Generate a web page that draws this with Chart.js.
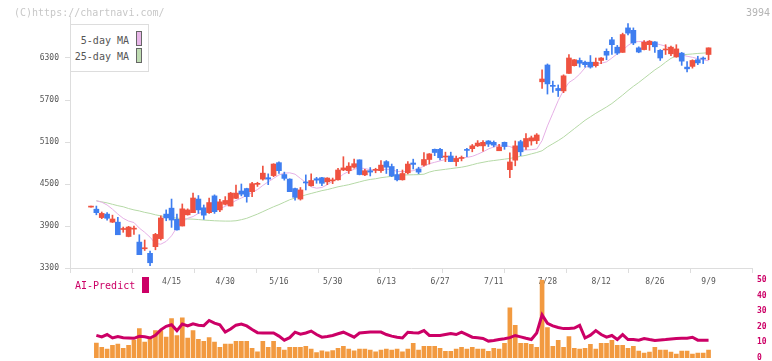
<!DOCTYPE html>
<html>
<head>
<meta charset="utf-8">
<title>3994</title>
<script src="https://cdn.jsdelivr.net/npm/chart.js@4/dist/chart.umd.min.js"></script>
<style>
  html, body { margin: 0; padding: 0; background: #fff; }
  #wrap { position: relative; width: 772px; height: 361px; overflow: hidden; font-family: 'DejaVu Sans Mono', monospace; }
  #wrap canvas { position: absolute; left: 0; }
  #main { top: 0; }
  #sub { top: 270px; }
  .txt { position: absolute; white-space: nowrap; font-size: 10px; line-height: 12px; }
  .sq { position: absolute; width: 4px; height: 13px; border: 1px solid #666; }
</style>
</head>
<body>
<div id="wrap">
  <canvas id="main" width="772" height="300"></canvas>
  <canvas id="sub" width="772" height="104"></canvas>

  <div class="txt" style="left:14px;top:7px;color:#c8c8c8;">(C)https://chartnavi.com/</div>
  <div class="txt" style="left:746px;top:7px;color:#b4b4b4;">3994</div>

  <div style="position:absolute;left:70px;top:24px;width:77px;height:46px;border:1px solid #ddd;background:#fff;"></div>
  <div class="txt" style="right:643px;top:35px;color:#555;">5-day MA</div>
  <div class="sq" style="left:136px;top:31px;background:#e8b6e8;"></div>
  <div class="txt" style="right:643px;top:51px;color:#555;">25-day MA</div>
  <div class="sq" style="left:136px;top:48px;background:#bfdcb2;"></div>

  <div class="txt" style="left:75px;top:280px;color:#cc0066;">AI-Predict</div>
  <div style="position:absolute;left:142px;top:277px;width:7px;height:16px;background:#cc0066;"></div>
</div>

<script>
// daily candles, index 0 = first session shown
var OPEN  = [4170,4140,4020,4070,3955,3955,3850,3750,3855,3670,3575,3510,3605,3720,4070,4155,3995,3900,4060,4090,
             4285,4160,4090,4330,4130,4210,4185,4295,4400,4435,4390,4495,4570,4590,4620,4805,4635,4570,4435,4285,
             4525,4475,4575,4590,4530,4545,4560,4700,4690,4740,4845,4630,4690,4695,4690,4820,4750,4635,4560,4660,
             4800,4715,4770,4850,4995,4995,4885,4900,4820,4865,4990,5005,5045,5045,5115,5095,4975,5095,4705,4840,
             5105,5030,5115,5120,5960,6200,5910,5865,5830,6080,6190,6265,6240,6240,6190,6265,6395,6560,6455,6380,
             6730,6695,6445,6420,6490,6530,6410,6415,6360,6315,6370,6170,6180,6275,6295,6350];
var HIGH  = [4170,4185,4100,4090,4055,4025,3885,3895,3900,3775,3700,3540,3795,4045,4130,4285,4070,4215,4145,4370,
             4335,4200,4300,4345,4280,4320,4380,4485,4500,4440,4525,4525,4755,4645,4790,4815,4670,4575,4440,4450,
             4630,4645,4595,4595,4590,4585,4725,4890,4805,4855,4845,4710,4735,4725,4835,4835,4785,4710,4700,4820,
             4855,4740,4950,4935,5000,5010,4955,4955,4900,4900,5010,5065,5120,5120,5120,5115,5065,5100,4945,5115,
             5125,5220,5185,5220,6130,6215,5970,5915,6060,6350,6280,6300,6255,6335,6300,6305,6430,6595,6480,6655,
             6790,6730,6460,6550,6550,6535,6420,6490,6470,6490,6380,6250,6275,6325,6315,6445];
var LOW   = [4170,4060,4005,3985,3950,3775,3810,3745,3780,3490,3550,3335,3560,3700,3975,3880,3840,3900,4055,4090,
             4080,3995,4080,4080,4105,4200,4185,4290,4330,4240,4320,4465,4555,4490,4605,4650,4555,4390,4270,4270,
             4415,4470,4510,4475,4490,4505,4555,4690,4650,4725,4630,4620,4615,4660,4665,4650,4605,4545,4555,4645,
             4715,4645,4755,4785,4905,4845,4820,4820,4760,4830,4890,4960,5035,4970,5035,5030,4975,4995,4590,4760,
             4905,4995,5055,5075,5865,5785,5810,5750,5805,6080,6185,6170,6170,6155,6170,6220,6275,6350,6350,6380,
             6630,6490,6375,6415,6410,6380,6265,6350,6335,6310,6195,6100,6155,6205,6220,6275];
var CLOSE = [4170,4090,4080,4010,4000,3775,3860,3885,3865,3490,3585,3375,3780,4015,4015,3985,3845,4145,4130,4300,
             4130,4055,4235,4105,4245,4265,4370,4370,4355,4320,4505,4505,4655,4570,4785,4690,4580,4390,4310,4415,
             4515,4550,4555,4510,4585,4555,4700,4730,4755,4790,4635,4690,4670,4705,4770,4740,4615,4560,4650,4785,
             4780,4670,4850,4930,4950,4875,4895,4820,4865,4875,4980,5045,5085,5095,5070,5055,5030,5035,4815,5045,
             4960,5150,5160,5200,6000,5930,5895,5835,6045,6300,6275,6225,6205,6170,6240,6300,6340,6490,6370,6635,
             6655,6515,6385,6525,6540,6460,6300,6425,6455,6430,6255,6145,6265,6230,6285,6445];

var MA5  = [null,4260,4240,4200,4140,4070,4010,3970,3950,3870,3810,3740,3650,3640,3680,3760,3880,3960,4010,4035,
            4080,4100,4105,4115,4150,4180,4220,4265,4300,4335,4380,4420,4480,4530,4580,4630,4655,4660,4640,4580,
            4520,4460,4440,4450,4490,4540,4580,4640,4680,4710,4730,4720,4705,4700,4705,4710,4705,4680,4676,4680,
            4690,4720,4755,4790,4810,4830,4850,4867,4867,4870,4880,4895,4925,4960,5000,5030,5055,5050,5035,5005,
            4986,4986,4990,5000,5120,5330,5510,5690,5840,5950,6000,6070,6160,6210,6225,6225,6245,6300,6360,6410,
            6480,6530,6535,6535,6525,6510,6490,6470,6420,6380,6345,6325,6310,6290,6275,6260];
var MA25 = [null,4260,4245,4230,4210,4190,4175,4150,4130,4115,4095,4080,4060,4045,4030,4020,4012,4005,4000,3998,
            3992,3985,3980,3975,3972,3970,3970,3975,3990,4010,4040,4070,4105,4140,4175,4205,4240,4275,4300,4320,
            4345,4365,4385,4405,4420,4440,4460,4475,4490,4510,4530,4550,4565,4575,4590,4600,4610,4620,4628,4630,
            4632,4634,4640,4670,4690,4700,4710,4720,4730,4740,4755,4775,4795,4810,4825,4835,4845,4855,4865,4880,
            4895,4910,4930,4950,4975,5030,5075,5120,5170,5230,5290,5350,5410,5460,5510,5555,5600,5650,5710,5770,
            5835,5895,5950,6010,6070,6130,6180,6240,6295,6330,6345,6352,6358,6365,6370,6376];

// lower panel: volume (relative units) and AI-Predict score
var VOLUME = [null,153,110,90,130,143,100,130,183,300,163,213,280,280,213,403,230,410,203,280,
              190,170,210,163,110,143,143,170,170,170,100,63,170,110,170,110,80,110,110,110,
              120,90,55,73,63,77,100,120,90,73,90,90,80,63,80,90,80,90,63,90,
              150,80,120,120,120,100,67,67,90,110,90,110,90,90,67,100,90,150,513,333,
              150,150,140,110,800,310,120,180,110,220,100,90,100,140,90,150,150,180,130,130,
              100,120,70,50,60,110,80,80,60,40,70,70,40,50,50,80];
var AI_PREDICT = [null,14.5,13.5,15,12.8,13.7,13,12.8,12.6,13.9,13.6,12.8,14.5,18,20.3,21.3,17.5,21.7,20.5,21.9,
                  21,20.7,24,22.3,21.2,16.6,18.5,21,21.7,20.5,18.2,16.2,16,16,16,14,11.4,13,16.5,15.2,
                  16,17.2,15,13.3,13.8,14.4,15.5,16.5,15,13.3,16,16.3,16.6,16.6,16.6,15,14,13.3,12.8,16.5,
                  16.2,16,17.5,14.4,14.4,14.4,15,15.6,15,16.6,15,13.3,13,12.5,10.8,11.2,11.8,12.3,13,14.4,
                  13.5,12.6,11.8,16,27.6,22.2,20.5,19.5,18.8,18.9,19.2,20.9,12.8,14.6,17.5,15,13.3,14.4,11.8,15,
                  11.8,11.8,11.4,12.5,11.8,11.2,11.5,11.8,12.2,12.5,12.6,12.7,13.3,11.4,11.4,11.4];

var DATE_LABELS = ['4/15','4/30','5/16','5/30','6/13','6/27','7/11','7/28','8/12','8/26','9/9'];
var DATE_INDEX  = [15,25,35,45,55,65,75,85,95,105,115];
var PRICE_TICKS = [3300,3900,4500,5100,5700,6300];
var AI_TICKS    = [0,10,20,30,40,50];

var X_MIN = -3.91, X_MAX = 123.09;
var UP = '#ef5240', DOWN = '#3f7ef0';
var AXIS = '#dddddd';
var MONO = "'DejaVu Sans Mono', monospace";

function pts(arr) {
  return arr.map(function (v, i) { return { x: i, y: v }; });
}

function plain(v) { return String(v); }

var wicks = [], bodies = [], colors = [];
for (var i = 0; i < OPEN.length; i++) {
  wicks.push({ x: i, y: [LOW[i], HIGH[i]] });
  bodies.push({ x: i, y: [OPEN[i], CLOSE[i]] });
  colors.push(CLOSE[i] >= OPEN[i] ? UP : DOWN);
}

new Chart(document.getElementById('main'), {
  type: 'bar',
  data: {
    datasets: [
      { type: 'line', data: pts(MA25), borderColor: '#b5d9a6', borderWidth: 1, pointRadius: 0, tension: 0, order: 4 },
      { type: 'line', data: pts(MA5), borderColor: '#e6b0e6', borderWidth: 1, pointRadius: 0, tension: 0, order: 3 },
      { data: wicks, backgroundColor: colors, barThickness: 1, minBarLength: 1, grouped: false, order: 2 },
      { data: bodies, backgroundColor: colors, barThickness: 5, minBarLength: 1, grouped: false, order: 1 }
    ]
  },
  options: {
    responsive: false,
    animation: false,
    events: [],
    layout: { padding: { top: 16, right: 20, left: 0, bottom: 0 } },
    plugins: { legend: { display: false }, tooltip: { enabled: false } },
    scales: {
      x: {
        type: 'linear', min: X_MIN, max: X_MAX, offset: false, weight: 0,
        grid: { offset: false, drawOnChartArea: false, tickLength: 5, color: AXIS },
        border: { color: AXIS },
        ticks: { display: false },
        afterBuildTicks: function (scale) {
          var t = [];
          for (var k = 0; k <= 11; k++) t.push({ value: scale.min + k * (scale.max - scale.min) / 11 });
          scale.ticks = t;
        },
        afterFit: function (scale) { scale.height = 6; }
      },
      xd: {
        type: 'linear', position: 'bottom', min: X_MIN, max: X_MAX, offset: false, weight: 1,
        grid: { display: false, drawTicks: false },
        border: { display: false },
        ticks: {
          autoSkip: false, maxRotation: 0, padding: 3, color: '#555',
          font: { family: MONO, size: 8 },
          callback: function (value) {
            var k = DATE_INDEX.indexOf(value);
            return k >= 0 ? DATE_LABELS[k] : '';
          }
        },
        afterBuildTicks: function (scale) {
          scale.ticks = DATE_INDEX.map(function (v) { return { value: v }; });
        },
        afterFit: function (scale) { scale.height = 26; }
      },
      y: {
        min: 3300, max: 6900, beginAtZero: false,
        grid: { drawOnChartArea: false, tickLength: 5, color: AXIS },
        border: { color: AXIS },
        ticks: { padding: 6, color: '#555', font: { family: MONO, size: 8 }, callback: plain },
        afterBuildTicks: function (scale) {
          scale.ticks = PRICE_TICKS.map(function (v) { return { value: v }; });
        },
        afterFit: function (scale) { scale.width = 70; }
      }
    }
  }
});

// lower panel: canvas runs past the page bottom so the "0" label keeps the plot bottom at 358
new Chart(document.getElementById('sub'), {
  type: 'bar',
  data: {
    datasets: [
      { type: 'line', data: pts(AI_PREDICT), yAxisID: 'ya', borderColor: '#cc0066', borderWidth: 3,
        pointRadius: 0, tension: 0, order: 1 },
      { data: pts(VOLUME), yAxisID: 'yv', backgroundColor: '#f29a40', barThickness: 4, grouped: false, order: 2 }
    ]
  },
  options: {
    responsive: false,
    animation: false,
    events: [],
    layout: { padding: { top: 8, right: 0, left: 70, bottom: 16 } },
    plugins: { legend: { display: false }, tooltip: { enabled: false } },
    scales: {
      x: { type: 'linear', min: X_MIN, max: X_MAX, offset: false, display: false, grid: { offset: false } },
      yv: { display: false, min: 0, max: 800 },
      ya: {
        position: 'right', min: 0, max: 50,
        grid: { display: false, drawTicks: false },
        border: { display: false },
        ticks: { padding: 5, color: '#cc0066', font: { family: MONO, size: 8, weight: 'bold' }, callback: plain },
        afterBuildTicks: function (scale) {
          scale.ticks = AI_TICKS.map(function (v) { return { value: v }; });
        },
        afterFit: function (scale) { scale.width = 20; }
      }
    }
  }
});
</script>
</body>
</html>
